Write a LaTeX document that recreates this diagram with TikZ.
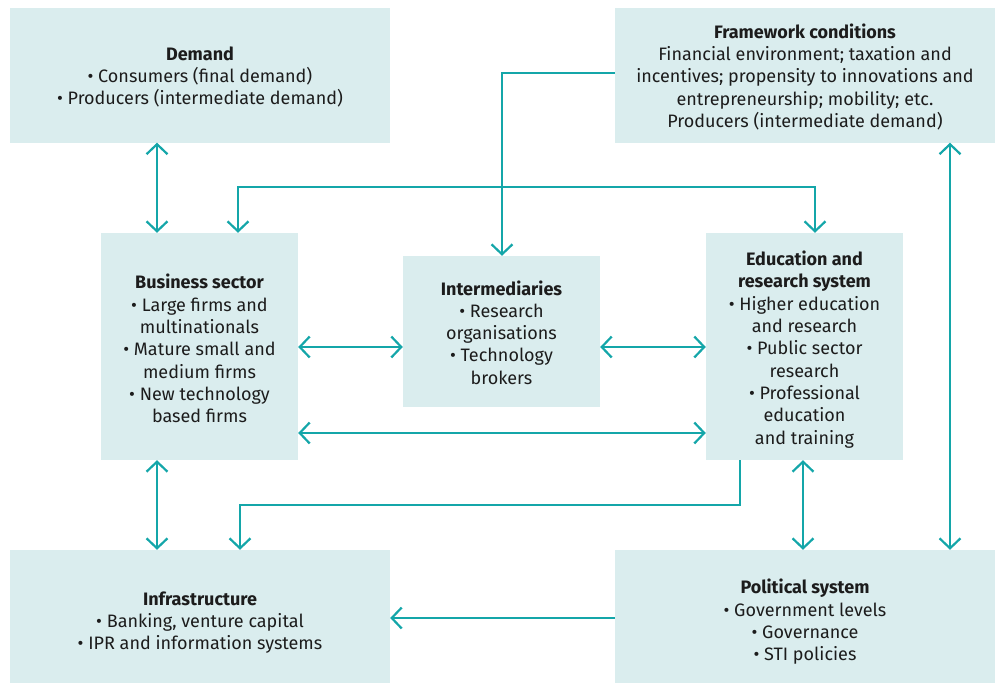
\documentclass[tikz,border=0pt]{standalone}
\usepackage{fontspec}
\setmainfont{Fira Sans}
\usetikzlibrary{arrows.meta}
\definecolor{boxfill}{HTML}{DAEDEE}
\definecolor{arrowc}{HTML}{14A6A9}
\definecolor{textc}{HTML}{1C1C1C}
\begin{document}
\begin{tikzpicture}[x=1pt,y=-1pt,
  box/.style={fill=boxfill, draw=none, inner sep=0pt},
  txt/.style={inner sep=0pt, align=center,
    font=\fontsize{18}{22.3}\selectfont, text=textc},
  conn/.style={draw=arrowc, line width=2.2pt},
  >={Straight Barb[length=10pt,width=21pt]}]
\useasboundingbox (0,0) rectangle (995,683);
% boxes
\node[box, minimum width=380pt, minimum height=135pt] (demand) at (200,75) {};
\node[box, minimum width=380pt, minimum height=135pt] (fw) at (805,75) {};
\node[box, minimum width=197pt, minimum height=227pt] (bus) at (199.5,346.5) {};
\node[box, minimum width=197pt, minimum height=151pt] (inter) at (501.5,331.5) {};
\node[box, minimum width=197pt, minimum height=227pt] (edu) at (804.5,346.5) {};
\node[box, minimum width=380pt, minimum height=133pt] (infra) at (200,616.5) {};
\node[box, minimum width=380pt, minimum height=133pt] (pol) at (805,616.5) {};
% texts
\node[txt] (demandt) at ([yshift=-2pt]demand.center)
  {\textbf{Demand}\\• Consumers (final demand)\\• Producers (intermediate demand)};
\node[txt] (fwt) at ([yshift=-2pt]fw.center)
  {\textbf{Framework conditions}\\Financial environment; taxation and\\incentives; propensity to innovations and\\entrepreneurship; mobility; etc.\\Producers (intermediate demand)};
\node[txt] (bust) at ([yshift=-2pt]bus.center)
  {\textbf{Business sector}\\• Large firms and\\multinationals\\• Mature small and\\medium firms\\• New technology\\based firms};
\node[txt] (intert) at ([yshift=-1pt]inter.center)
  {\textbf{Intermediaries}\\• Research\\organisations\\• Technology\\brokers};
\node[txt] (edut) at ([yshift=-3pt]edu.center)
  {\textbf{Education and}\\\textbf{research system}\\• Higher education\\and research\\• Public sector\\research\\• Professional\\education\\and training};
\node[txt] (infrat) at ([yshift=-6pt]infra.center)
  {\textbf{Infrastructure}\\• Banking, venture capital\\• IPR and information systems};
\node[txt] (polt) at ([yshift=-5.5pt]pol.center)
  {\textbf{Political system}\\• Government levels\\• Governance\\• STI policies};
% guide coordinates
\coordinate (xa) at (157,0);
\coordinate (xb) at (238,0);
\coordinate (xc) at (502,0);
\coordinate (xd) at (815,0);
\coordinate (xe) at (950,0);
\coordinate (xf) at (740,0);
\coordinate (xg) at (240,0);
\coordinate (xh) at (803,0);
\coordinate (yf) at (0,73);
\coordinate (yt) at (0,187);
\coordinate (ym) at (0,347);
\coordinate (yl) at (0,433);
\coordinate (yb) at (0,505);
\coordinate (yp) at (0,618);
\coordinate (tl) at (xb |- yt);
\coordinate (tr) at (xd |- yt);
\coordinate (fc) at (xc |- yf);
\coordinate (bl) at (xg |- yb);
\coordinate (br) at (xf |- yb);
% connectors
\draw[conn,<->] (demand.south -| xa) -- (bus.north -| xa);
\draw[conn,->] (fw.west |- yf) -- (fc) -- (inter.north -| xc);
\draw[conn,<->] (bus.north -| xb) -- (tl) -- (tr) -- (edu.north -| xd);
\draw[conn,<->] (bus.east |- ym) -- (inter.west |- ym);
\draw[conn,<->] (inter.east |- ym) -- (edu.west |- ym);
\draw[conn,<->] (bus.east |- yl) -- (edu.west |- yl);
\draw[conn,<->] (bus.south -| xa) -- (infra.north -| xa);
\draw[conn,->] (edu.south -| xf) -- (br) -- (bl) -- (infra.north -| xg);
\draw[conn,<->] (edu.south -| xh) -- (pol.north -| xh);
\draw[conn,<->] (fw.south -| xe) -- (pol.north -| xe);
\draw[conn,->] (pol.west |- yp) -- (infra.east |- yp);
\end{tikzpicture}
\end{document}
